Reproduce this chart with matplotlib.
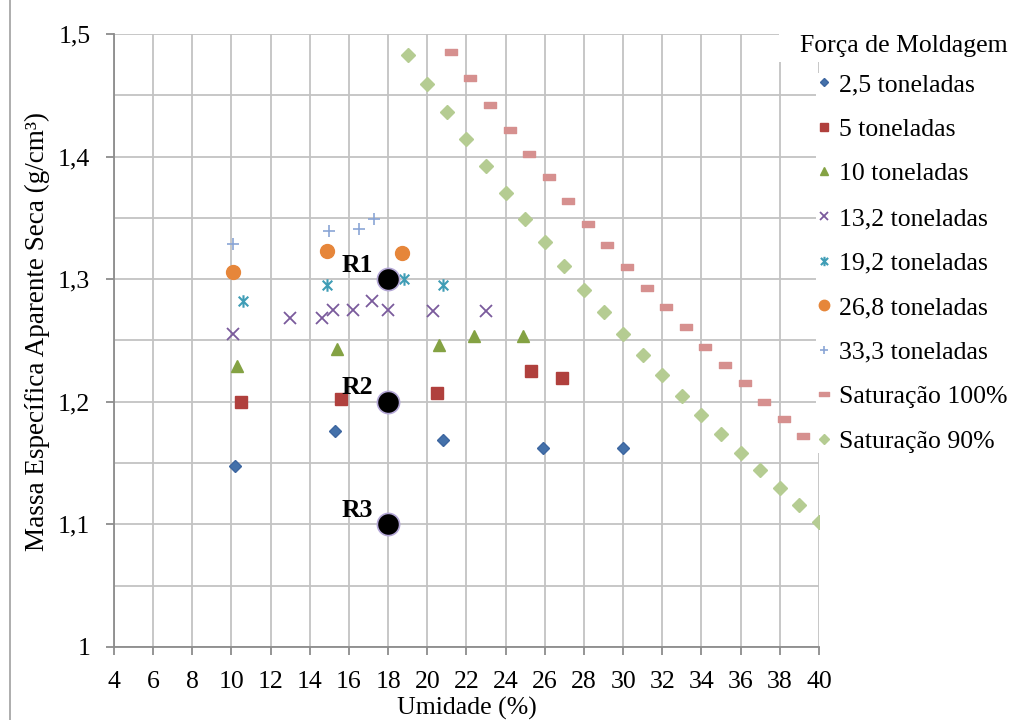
import matplotlib.pyplot as plt
import numpy as np
from matplotlib.path import Path
from matplotlib.lines import Line2D
from matplotlib.patches import Rectangle
from matplotlib.ticker import MultipleLocator, FuncFormatter

plt.rcParams['font.family'] = ['Liberation Serif', 'DejaVu Serif']

# data
u_25 = [10.2, 15.3, 20.8, 25.9, 30.0]
d_25 = [1.148, 1.176, 1.169, 1.162, 1.162]
u_5 = [10.5, 15.6, 20.5, 25.3, 26.9]
d_5 = [1.200, 1.202, 1.207, 1.225, 1.219]
u_10 = [10.3, 15.4, 20.6, 22.4, 24.9]
d_10 = [1.229, 1.243, 1.246, 1.254, 1.254]
u_132 = [10.1, 13.0, 14.6, 15.2, 16.2, 17.2, 18.0, 20.3, 23.0]
d_132 = [1.255, 1.268, 1.268, 1.275, 1.275, 1.282, 1.275, 1.274, 1.274]
u_192 = [10.6, 14.9, 18.8, 20.8]
d_192 = [1.282, 1.295, 1.300, 1.295]
u_268 = [10.1, 14.9, 18.7]
d_268 = [1.306, 1.323, 1.321]
u_333 = [10.1, 15.0, 16.5, 17.3]
d_333 = [1.329, 1.339, 1.341, 1.349]
u_s100 = [21.2, 22.2, 23.2, 24.2, 25.2, 26.2, 27.2, 28.2, 29.2, 30.2,
          31.2, 32.2, 33.2, 34.2, 35.2, 36.2, 37.2, 38.2, 39.2]
d_s100 = [1.485, 1.464, 1.442, 1.422, 1.402, 1.383, 1.364, 1.345, 1.328, 1.310,
          1.293, 1.277, 1.261, 1.245, 1.230, 1.215, 1.200, 1.186, 1.172]
u_s90 = list(range(19, 41))
d_s90 = [1.483, 1.459, 1.436, 1.414, 1.392, 1.370, 1.349, 1.330, 1.311, 1.291, 1.273,
         1.255, 1.238, 1.222, 1.205, 1.189, 1.174, 1.158, 1.144, 1.130, 1.116, 1.102]
r_names = ['R1', 'R2', 'R3']
r_u = [18, 18, 18]
r_d = [1.3, 1.2, 1.1]

# custom markers: excel style dash and star
dash = Path([(-1, -0.42), (1, -0.42), (1, 0.42), (-1, 0.42), (-1, -0.42)],
            [Path.MOVETO, Path.LINETO, Path.LINETO, Path.LINETO, Path.CLOSEPOLY])
star = Path([(-1, -1), (1, 1), (-1, 1), (1, -1), (0, -1.3), (0, 1.3)],
            [Path.MOVETO, Path.LINETO, Path.MOVETO, Path.LINETO, Path.MOVETO, Path.LINETO])

fig = plt.figure(figsize=(10.24, 7.2), dpi=100)
ax = fig.add_axes([0.1113, 0.1014, 0.6885, 0.8514])

ax.plot(u_25, d_25, ls='none', marker='D', ms=5.8, color='#4471aa', mec='#3d66a0', label='2,5 toneladas')
ax.plot(u_5, d_5, ls='none', marker='s', ms=8.5, color='#b0403d', mec='#b0403d', label='5 toneladas')
ax.plot(u_10, d_10, ls='none', marker='^', ms=8.5, color='#84a243', mec='#84a243', label='10 toneladas')
ax.plot(u_132, d_132, ls='none', marker='x', ms=8, mew=1.3, color='#7a5a9c', label='13,2 toneladas')
ax.plot(u_192, d_192, ls='none', marker=star, ms=9, mew=1.5, color='#3f9db6', label='19,2 toneladas')
ax.plot(u_268, d_268, ls='none', marker='o', ms=10, color='#e6863a', mec='#e6863a', label='26,8 toneladas')
ax.plot(u_333, d_333, ls='none', marker='+', ms=8.5, mew=1.2, color='#8aa5d6', label='33,3 toneladas')
ax.plot(u_s100, d_s100, ls='none', marker=dash, ms=9, color='#d6908f', mec='#d6908f', label='Saturação 100%')
ax.plot(u_s90, d_s90, ls='none', marker='D', ms=7.2, color='#b5cc92', mec='#b5cc92', label='Saturação 90%')

ax.plot(r_u, r_d, ls='none', marker='o', ms=16, color='black', mec='#b4a7d6', mew=1.2, zorder=4)
for name, x, y in zip(r_names, r_u, r_d):
    ax.annotate(name, (x, y), xytext=(-31, 14), textcoords='offset pixels',
                ha='center', va='center', fontsize=18.5, fontweight='bold')

ax.set_xlim(4, 40)
ax.set_ylim(1.0, 1.5)
ax.xaxis.set_major_locator(MultipleLocator(2))
ax.yaxis.set_major_locator(MultipleLocator(0.1))
ax.yaxis.set_minor_locator(MultipleLocator(0.05))
ax.yaxis.set_major_formatter(FuncFormatter(lambda v, p: f'{v:.1f}'.rstrip('0').rstrip('.').replace('.', ',')))

ax.grid(True, which='major', color='#c3c3c3', lw=1.3)
ax.grid(True, which='minor', axis='y', color='#c3c3c3', lw=1.3)
ax.set_axisbelow(True)
for s in ['top', 'right']:
    ax.spines[s].set_visible(False)
for s in ['left', 'bottom']:
    ax.spines[s].set_color('#8c8c8c')
    ax.spines[s].set_linewidth(1.3)
ax.tick_params(which='major', length=6, width=1.3, color='#8c8c8c', labelsize=18.5)
ax.tick_params(axis='y', pad=11)
ax.tick_params(axis='x', pad=11)
ax.tick_params(which='minor', length=0)

ax.set_xlabel('Umidade (%)', fontsize=18.5, labelpad=3)
ax.set_ylabel('Massa Específica Aparente Seca (g/cm³)', fontsize=19.5)
ax.yaxis.set_label_coords(-0.091, 0.514)

leg = ax.legend(loc='upper left', bbox_to_anchor=(803 / 1024, 1 - 60 / 720),
                bbox_transform=fig.transFigure, frameon=True, fancybox=False,
                fontsize=18.5, handlelength=0.6, handletextpad=0.3,
                labelspacing=0.84, markerscale=0.75, borderpad=0.02)
leg.get_frame().set_facecolor('white')
leg.get_frame().set_edgecolor('none')
leg.get_frame().set_alpha(1)
leg.set_zorder(10)

# legend title sits on its own white box, a bit left of the entries
fig.add_artist(Rectangle((779 / 1024, 1 - 62 / 720), 245 / 1024, 42 / 720,
                         transform=fig.transFigure, fc='white', ec='none', zorder=2))
fig.text(800 / 1024, 1 - 46 / 720, 'Força de Moldagem', fontsize=18.5,
         ha='left', va='center', zorder=3)

fig.add_artist(Line2D([10 / 1024, 10 / 1024], [0, 1], color='#a0a0a0', lw=1.2))

fig.savefig('out.png', dpi=100)
